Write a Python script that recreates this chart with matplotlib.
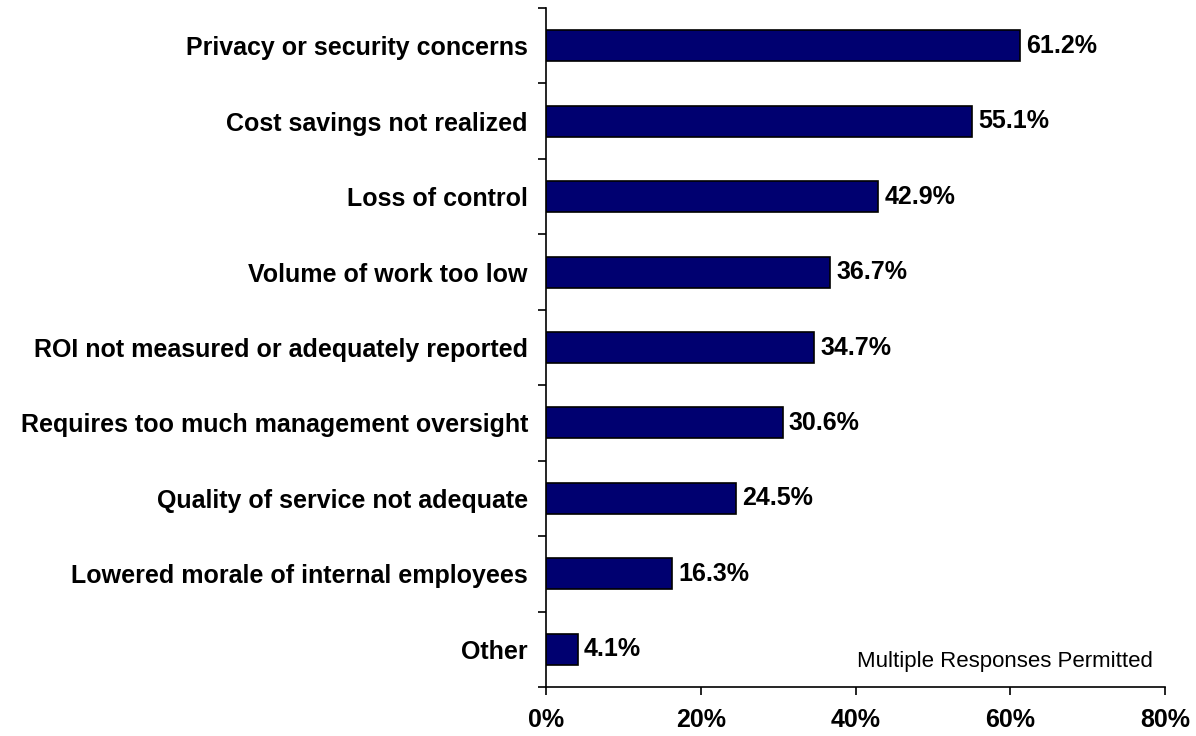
import matplotlib.pyplot as plt
import numpy as np

categories = ["Privacy or security concerns", "Cost savings not realized", "Loss of control",
              "Volume of work too low", "ROI not measured or adequately reported",
              "Requires too much management oversight", "Quality of service not adequate",
              "Lowered morale of internal employees", "Other"]
values = [61.2, 55.1, 42.9, 36.7, 34.7, 30.6, 24.5, 16.3, 4.1]
xticks = [0, 20, 40, 60, 80]

plt.rcParams['font.family'] = ['Liberation Sans', 'DejaVu Sans']

fig = plt.figure(figsize=(11.96, 7.36), dpi=100)
ax = fig.add_axes([546/1196, 1 - 687/736, (1165 - 546)/1196, (687 - 8)/736])

y = np.arange(len(categories))
ax.barh(y, values, height=0.41, color='#000070', edgecolor='black', linewidth=1.2)
for yi, v in zip(y, values):
    ax.text(v + 0.8, yi, f"{v:.1f}%", va='center', ha='left', fontsize=18, fontweight='bold')

ax.set_ylim(len(categories) - 0.5, -0.5)
ax.set_xlim(0, 80)
ax.set_yticks(y)
ax.set_yticklabels(categories, fontsize=18, fontweight='bold')
ax.set_yticks(np.arange(-0.5, len(categories), 1), minor=True)
ax.tick_params(axis='y', which='major', length=0, pad=13)
ax.tick_params(axis='y', which='minor', length=6, width=1.2, direction='out')
ax.set_xticks(xticks)
ax.set_xticklabels([f"{t}%" for t in xticks], fontsize=18, fontweight='bold')
ax.tick_params(axis='x', length=6, width=1.2, direction='out', pad=9)

for s in ['top', 'right']:
    ax.spines[s].set_visible(False)
for s in ['left', 'bottom']:
    ax.spines[s].set_linewidth(1.2)

ax.text(0.98, 0.038, "Multiple Responses Permitted", transform=ax.transAxes,
        ha='right', va='center', fontsize=16)

fig.savefig("out.png", dpi=100)
